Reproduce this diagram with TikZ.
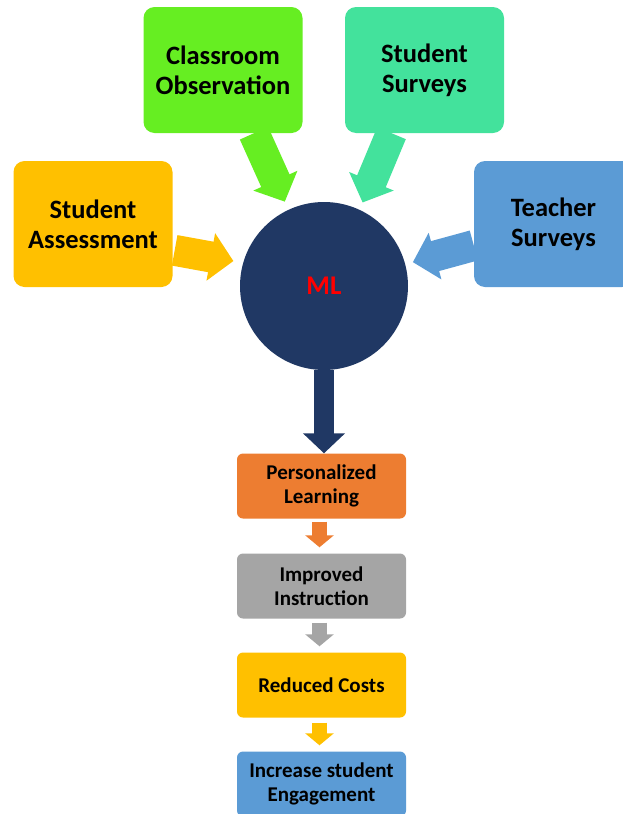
\documentclass[tikz,border=0pt]{standalone}
\usepackage{fontspec}
\setmainfont{Carlito}
\usepackage{xcolor}
\usetikzlibrary{arrows.meta}

\definecolor{obsgreen}{RGB}{102,238,34}
\definecolor{surveyteal}{RGB}{67,226,156}
\definecolor{assessyellow}{RGB}{255,192,0}
\definecolor{teacherblue}{RGB}{91,155,213}
\definecolor{mlnavy}{RGB}{32,56,100}
\definecolor{plorange}{RGB}{237,125,49}
\definecolor{iigray}{RGB}{165,165,165}

\begin{document}
\begin{tikzpicture}[x=1pt,y=-1pt,
  source/.style={fill=#1, rounded corners=11pt, minimum width=159pt,
    minimum height=126pt, inner sep=0pt, align=center,
    font=\fontsize{26.5pt}{30pt}\selectfont\bfseries},
  outcome/.style={fill=#1, rounded corners=6pt, minimum width=169pt,
    minimum height=65pt, inner sep=0pt, align=center,
    font=\fontsize{21pt}{23.5pt}\selectfont\bfseries},
  bigarrow/.style={draw=#1, line width=31pt, -{Triangle[length=23pt,width=47pt]}},
  mlarrow/.style={draw=#1, line width=20pt, -{Triangle[length=20pt,width=41pt]}},
  smallarrow/.style={draw=#1, line width=15pt, -{Triangle[length=12pt,width=28pt]}}]

\clip (0,0) rectangle (623,814);

% inputs
\node[source=obsgreen] (obs) at (223,70) {Classroom\\Observation};
\node[source=surveyteal] (ssurv) at (424.5,70) {Student\\Surveys};
\node[source=assessyellow] (sass) at (93,224) {Student\\Assessment};
\node[source=teacherblue] (tsurv) at (553.5,224) {Teacher\\Surveys};

% model
\node[circle, fill=mlnavy, minimum size=168pt, inner sep=0pt, outer sep=0pt,
  text=red, font=\fontsize{27pt}{30pt}\selectfont\bfseries] (ml) at (324,286) {ML};

% outcomes
\node[outcome=plorange] (pl) at (321.5,486) {Personalized\\Learning};
\node[outcome=iigray] (ii) at (321.5,586) {Improved\\Instruction};
\node[outcome=assessyellow] (rc) at (321.5,685) {Reduced Costs};
\node[outcome=teacherblue] (ise) at (321.5,784) {Increase student\\Engagement};

% arrows into ML
\draw[bigarrow=obsgreen, shorten >=9pt] ([xshift=31pt]obs.south) -- (ml.115.5);
\draw[bigarrow=surveyteal, shorten >=8pt] ([xshift=-33pt]ssurv.south) -- (ml.65.7);
\draw[bigarrow=assessyellow, shorten <=2pt, shorten >=10pt] ([yshift=-26pt]sass.east) -- (ml.164.6);
\draw[bigarrow=teacherblue, shorten >=8pt] ([yshift=-21.5pt]tsurv.west) -- (ml.15.7);

% arrows down the chain
\draw[mlarrow=mlnavy] (ml.south) -- (ml.south |- pl.north);
\draw[smallarrow=plorange, shorten <=3pt, shorten >=6pt] ([xshift=-2pt]pl.south) -- ([xshift=-2pt]ii.north);
\draw[smallarrow=iigray, shorten <=4pt, shorten >=6pt] ([xshift=-2pt]ii.south) -- ([xshift=-2pt]rc.north);
\draw[smallarrow=assessyellow, shorten <=5pt, shorten >=6pt] ([xshift=-2pt]rc.south) -- ([xshift=-2pt]ise.north);

\end{tikzpicture}
\end{document}
